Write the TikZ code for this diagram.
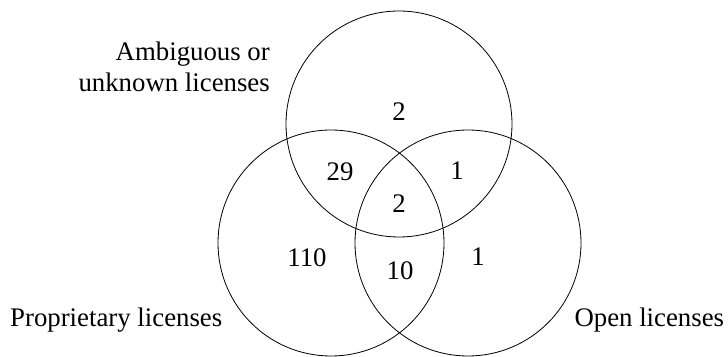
\documentclass[tikz,border=0pt]{standalone}
\usepackage{fontspec}
\setmainfont{Liberation Serif}
\begin{document}
\begin{tikzpicture}[x=1pt,y=1pt,
  venn/.style={draw=black,line width=0.8pt},
  lbl/.style={inner sep=0pt,font=\fontsize{26.8}{31}\selectfont},
  num/.style={inner sep=0pt,anchor=base,font=\fontsize{26.8}{31}\selectfont}]
\useasboundingbox (0,0) rectangle (728,356);
\draw[venn] (399,232) circle[radius=113];
\draw[venn] (331,113) circle[radius=113];
\draw[venn] (468,113) circle[radius=113];
\node[num] (a) at (399,235) {2};
\node[num] (ap) at (340,175) {29};
\node[num] (ao) at (457,176) {1};
\node[num] (apo) at (399,143) {2};
\node[num] (p) at (307,89) {110};
\node[num] (po) at (400,76) {10};
\node[num] (o) at (478,90) {1};
\node[lbl,anchor=base east] (la1) at (270,295.3) {Ambiguous or};
\node[lbl,anchor=base east] (la2) at (270,264.3) {unknown licenses};
\node[lbl,anchor=base west] (lp) at (10,30) {Proprietary licenses};
\node[lbl,anchor=base east] (lo) at (724.3,30) {Open licenses};
\end{tikzpicture}
\end{document}
